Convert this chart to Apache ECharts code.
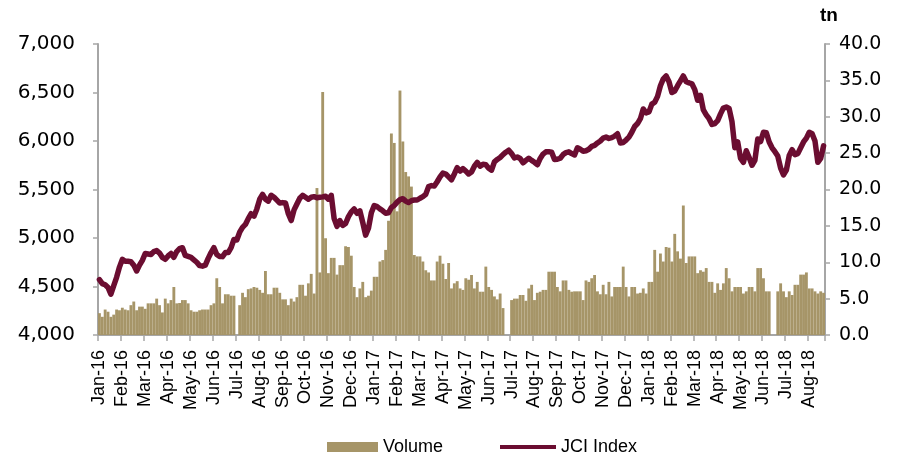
<!DOCTYPE html>
<html>
<head>
<meta charset="utf-8">
<script src="https://cdn.jsdelivr.net/npm/echarts@6/dist/echarts.min.js"></script>
<style>
html,body{margin:0;padding:0;background:#fff;}
#chart{width:909px;height:456px;}
</style>
</head>
<body>
<div id="chart"></div>
<script>
// Month tick labels (8 sampled points per month, last month partial)
const months = ['Jan-16','Feb-16','Mar-16','Apr-16','May-16','Jun-16','Jul-16','Aug-16','Sep-16','Oct-16','Nov-16','Dec-16',
  'Jan-17','Feb-17','Mar-17','Apr-17','May-17','Jun-17','Jul-17','Aug-17','Sep-17','Oct-17','Nov-17','Dec-17',
  'Jan-18','Feb-18','Mar-18','Apr-18','May-18','Jun-18','Jul-18','Aug-18'];
const pointsPerMonth = [8,8,8,8,8,8,8,8,8,8,8,8, 8,8,8,8,8,8,8,8,8,8,8,8, 8,8,8,8,8,8,8,6];

// JCI Index (left axis)
const jci2016 = [
  4570,4530,4518,4490,4420,4510,4595,4700,
  4780,4760,4760,4756,4720,4660,4720,4770,
  4840,4835,4830,4860,4870,4845,4800,4780,
  4815,4840,4800,4860,4890,4900,4820,4810,
  4800,4775,4750,4715,4710,4720,4790,4850,
  4900,4830,4810,4808,4850,4850,4900,4985,
  4980,5060,5110,5140,5200,5250,5225,5300,
  5400,5450,5400,5380,5440,5420,5390,5360,
  5365,5360,5250,5180,5290,5350,5410,5440,
  5420,5400,5420,5426,5415,5420,5424,5430,
  5400,5440,5200,5120,5180,5130,5150,5220,
  5270,5300,5255,5280,5160,5030,5100,5260];
const jci2017 = [
  5335,5323,5300,5280,5255,5260,5315,5335,
  5370,5395,5405,5380,5365,5385,5392,5392,
  5410,5426,5450,5530,5540,5535,5580,5630,
  5670,5660,5630,5600,5660,5725,5690,5715,
  5690,5660,5680,5740,5780,5740,5760,5755,
  5720,5700,5785,5810,5830,5860,5885,5905,
  5870,5825,5835,5820,5775,5800,5822,5800,
  5780,5755,5820,5865,5888,5890,5885,5810,
  5812,5822,5860,5880,5888,5870,5856,5930,
  5915,5895,5900,5915,5945,5955,5980,6000,
  6030,6040,6027,6035,6050,6075,5980,5985,
  6010,6040,6090,6150,6180,6230,6330,6290];
const jci2018 = [
  6300,6380,6400,6460,6570,6640,6670,6610,
  6500,6515,6570,6620,6670,6611,6600,6590,
  6530,6420,6470,6320,6270,6230,6170,6180,
  6210,6280,6340,6350,6335,6200,5930,5990,
  5820,5780,5900,5830,5750,5800,6020,5995,
  6090,6085,5990,5930,5890,5845,5720,5650,
  5700,5850,5910,5860,5870,5930,5990,6030,
  6090,6075,6000,5780,5820,5950];

// Volume, tn (right axis)
const vol2016 = [
  3.0,2.5,3.5,3.2,2.5,2.8,3.5,3.4,
  3.75,3.5,3.4,4.1,4.6,3.4,3.9,3.9,
  3.6,4.35,4.35,4.35,5.0,4.1,3.1,5.0,
  4.35,4.8,6.6,4.35,4.4,4.8,4.8,4.35,
  3.4,3.2,3.2,3.4,3.5,3.5,3.5,4.1,
  4.35,7.8,6.6,4.35,5.6,5.6,5.4,5.4,
  null,4.1,5.8,5.2,6.3,6.4,6.6,6.5,
  6.2,5.8,8.8,5.6,5.6,6.5,6.5,5.8,
  4.9,4.9,4.1,5.0,4.6,5.2,6.9,6.9,
  5.4,7.1,8.4,5.7,20.2,8.6,33.4,13.3,
  8.5,10.6,10.6,8.3,9.6,9.6,12.2,12.1,
  10.9,6.6,5.2,6.4,7.3,5.2,5.4,6.1];
const vol2017 = [
  8.0,8.0,10.1,10.3,11.7,15.7,27.7,26.4,
  17.0,33.6,26.6,22.4,21.8,20.4,11.0,10.8,
  10.8,10.1,8.9,8.6,7.5,7.5,10.1,10.9,
  9.8,7.7,9.9,6.4,7.1,7.4,6.4,6.2,
  7.8,7.6,8.25,6.4,7.3,5.95,5.95,9.4,
  6.6,6.2,5.3,4.9,5.7,3.7,null,null,
  4.8,5.0,5.0,5.5,5.5,4.7,6.4,6.9,
  4.8,5.8,5.95,6.2,6.2,8.7,8.7,8.7,
  6.6,6.0,7.5,7.5,6.2,5.95,6.0,6.0,
  6.0,4.8,7.5,7.3,7.8,8.25,6.0,5.6,
  6.9,5.6,7.3,5.3,6.6,6.6,6.6,9.4,
  6.6,5.3,6.6,6.6,5.7,5.8,6.4,5.7];
const vol2018 = [
  7.3,7.3,11.7,8.7,11.2,10.1,12.1,12.0,
  10.1,13.9,11.5,10.5,17.8,9.9,10.8,10.8,
  10.8,8.5,8.9,8.7,9.2,7.3,7.3,5.8,
  7.1,6.2,7.1,9.2,7.8,6.0,6.6,6.6,
  6.6,5.7,6.0,6.6,6.6,6.0,9.2,9.2,
  7.8,6.0,6.0,null,null,6.0,7.1,6.0,
  5.2,6.0,5.5,6.9,6.9,8.3,8.3,8.6,
  6.4,6.4,6.0,5.7,6.0,5.8];

const leftTicks = {min: 4000, max: 7000, step: 500};
const rightTicks = {min: 0, max: 40, step: 5};

const categories = [];
months.forEach((m, i) => {
  for (let k = 0; k < pointsPerMonth[i]; k++) categories.push(m + '|' + k);
});
const jci = jci2016.concat(jci2017, jci2018);
const vol = vol2016.concat(vol2017, vol2018);

const isMonthStart = (i) => categories[i] && categories[i].endsWith('|0');
const numFont = "'DejaVu Sans','Liberation Sans',sans-serif";
const axisGrey = '#a6a6a6';
const lineColor = '#6b0d31';
const barColor = '#a69568';

const chart = echarts.init(document.getElementById('chart'), null, {renderer: 'canvas'});
chart.setOption({
  animation: false,
  backgroundColor: '#ffffff',
  grid: {left: 98, right: 84, top: 44, bottom: 121, containLabel: false},
  legend: [{
    left: 322, top: 433,
    itemWidth: 51, itemHeight: 10,
    textStyle: {fontSize: 18, color: '#000', fontFamily: "'Liberation Sans',Arial,sans-serif"},
    data: [{name: 'Volume', icon: 'rect'}]
  }, {
    left: 495, top: 433,
    itemWidth: 56, itemHeight: 4,
    textStyle: {fontSize: 18, color: '#000', fontFamily: "'Liberation Sans',Arial,sans-serif"},
    data: [{name: 'JCI Index', icon: 'rect', itemStyle: {color: lineColor}}]
  }],
  graphic: [{
    type: 'text', left: 820, top: 6,
    style: {text: 'tn', font: "bold 19px 'Liberation Sans', Arial, sans-serif", fill: '#000'}
  }],
  xAxis: {
    type: 'category',
    data: categories,
    boundaryGap: true,
    axisLine: {lineStyle: {color: axisGrey, width: 2}},
    axisTick: {show: true, interval: (i) => isMonthStart(i), length: 6, lineStyle: {color: axisGrey, width: 1.5}},
    axisLabel: {
      interval: (i) => isMonthStart(i),
      rotate: 90, margin: 15,
      formatter: (v) => v.split('|')[0],
      fontSize: 18, color: '#000',
      fontFamily: "'Liberation Sans',Arial,sans-serif"
    },
    splitLine: {show: false}
  },
  yAxis: [{
    type: 'value', position: 'left',
    min: leftTicks.min, max: leftTicks.max, interval: leftTicks.step,
    axisLine: {show: true, lineStyle: {color: axisGrey, width: 2}},
    axisTick: {show: true, length: 5, lineStyle: {color: axisGrey, width: 1.5}},
    axisLabel: {
      formatter: (v) => String(v).replace(/\B(?=(\d{3})+(?!\d))/g, ','),
      fontSize: 20, color: '#000', margin: 23, fontFamily: numFont
    },
    splitLine: {show: false}
  }, {
    type: 'value', position: 'right',
    min: rightTicks.min, max: rightTicks.max, interval: rightTicks.step,
    axisLine: {show: true, lineStyle: {color: axisGrey, width: 2}},
    axisTick: {show: true, length: 5, lineStyle: {color: axisGrey, width: 1.5}},
    axisLabel: {
      formatter: (v) => v.toFixed(1),
      fontSize: 19, color: '#000', margin: 14, fontFamily: numFont
    },
    splitLine: {show: false}
  }],
  series: [{
    name: 'Volume', type: 'bar', yAxisIndex: 1,
    data: vol, barCategoryGap: '0%',
    itemStyle: {color: barColor}
  }, {
    name: 'JCI Index', type: 'line', yAxisIndex: 0,
    data: jci, symbol: 'none', showSymbol: false,
    lineStyle: {color: lineColor, width: 5.5, join: 'round', cap: 'round'},
    itemStyle: {color: lineColor}
  }]
});
</script>
</body>
</html>
